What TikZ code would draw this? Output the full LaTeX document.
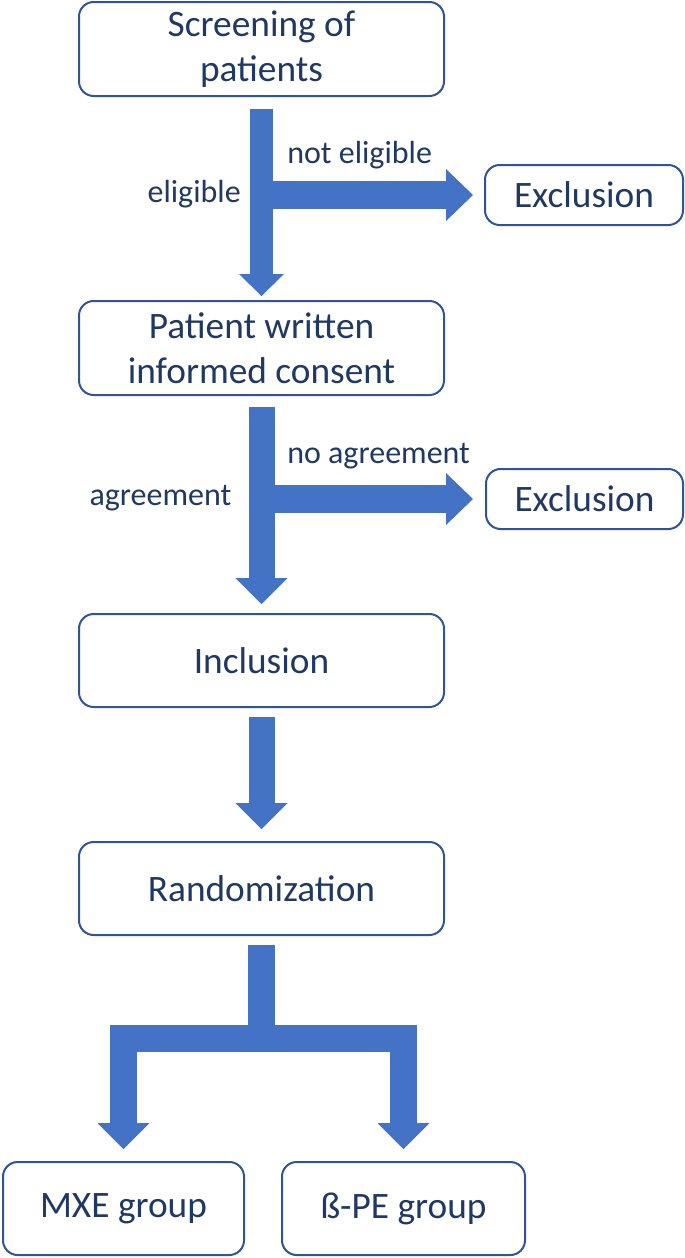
\documentclass[tikz,border=0pt]{standalone}
\usepackage{fontspec}
\setmainfont{Carlito}
\usetikzlibrary{arrows.meta}

\definecolor{arrowblue}{HTML}{4472C4}
\definecolor{boxblue}{HTML}{2F5597}
\definecolor{textblue}{HTML}{203864}

\tikzset{
    box/.style={draw=boxblue, line width=1.5pt, rounded corners=11pt, inner sep=0pt,
        text=textblue, align=center, font=\fontsize{28}{33.75}\selectfont},
    lbl/.style={text=textblue, inner sep=0pt, font=\fontsize{24}{29}\selectfont},
    flow/.style={draw=arrowblue, line width=19.5pt,
        -{Triangle[width=39pt,length=19.5pt,line width=0pt]}},
    thinflow/.style={draw=arrowblue, line width=17.25pt,
        -{Triangle[width=33.75pt,length=16.5pt,line width=0pt]}},
    sideflow/.style={draw=arrowblue, line width=21pt,
        -{Triangle[width=39pt,length=20.25pt,line width=0pt]}},
    forkflow/.style={draw=arrowblue, line width=20.25pt, line join=miter}
}

\begin{document}
\begin{tikzpicture}[x=0.75pt,y=-0.75pt]
            \useasboundingbox (0,0) rectangle (685,1258);

            \node[box, minimum width=273.75pt, minimum height=70.5pt] (screen) at (261.5,49) {Screening of\\patients};
            \node[box, minimum width=273.75pt, minimum height=70.5pt] (consent) at (261.5,348) {Patient written\\informed consent};
            \node[box, minimum width=273.75pt, minimum height=69.75pt] (incl) at (261.5,660.5) {Inclusion};
            \node[box, minimum width=273.75pt, minimum height=69.75pt] (rand) at (261.5,888.5) {Randomization};
            \node[box, minimum width=180.75pt, minimum height=69.75pt] (mxe) at (123.5,1208.5) {MXE group};
            \node[box, minimum width=182.25pt, minimum height=69.75pt] (bpe) at (403.5,1208.5) {ß-PE group};
            \node[box, minimum width=148.5pt, minimum height=45pt] (excl1) at (584,195) {Exclusion};
            \node[box, minimum width=147.75pt, minimum height=45pt] (excl2) at (584.5,499) {Exclusion};

            \node[lbl, anchor=base west] (noteli) at (287,163) {not eligible};
            \node[lbl, anchor=base east] (eli) at (241,202) {eligible};
            \node[lbl, anchor=base west] (noagr) at (287,463) {no agreement};
            \node[lbl, anchor=base east] (agr) at (231.5,505) {agreement};

            \draw[sideflow] (screen.south |- excl1.west) -- ([xshift=-8.25pt]excl1.west);
            \draw[thinflow] ([yshift=-9pt]screen.south) -- ([yshift=3pt]consent.north);

            \draw[sideflow] (consent.south |- excl2.west) -- ([xshift=-9pt]excl2.west);
            \draw[flow] ([yshift=-8.25pt]consent.south) -- ([yshift=6.75pt]incl.north);

            \draw[flow] ([yshift=-6.75pt]incl.south) -- ([yshift=9pt]rand.north);

            \coordinate (fork) at ([yshift=-76.5pt]rand.south);
            \draw[forkflow] ([yshift=-6.75pt]rand.south) -- (fork);
            \draw[forkflow, -{Triangle[width=39pt,length=19.5pt,line width=0pt]}] (fork) -| ([yshift=9pt]mxe.north);
            \draw[forkflow, -{Triangle[width=39pt,length=19.5pt,line width=0pt]}] (fork) -| ([yshift=9pt]bpe.north);
\end{tikzpicture}
\end{document}
